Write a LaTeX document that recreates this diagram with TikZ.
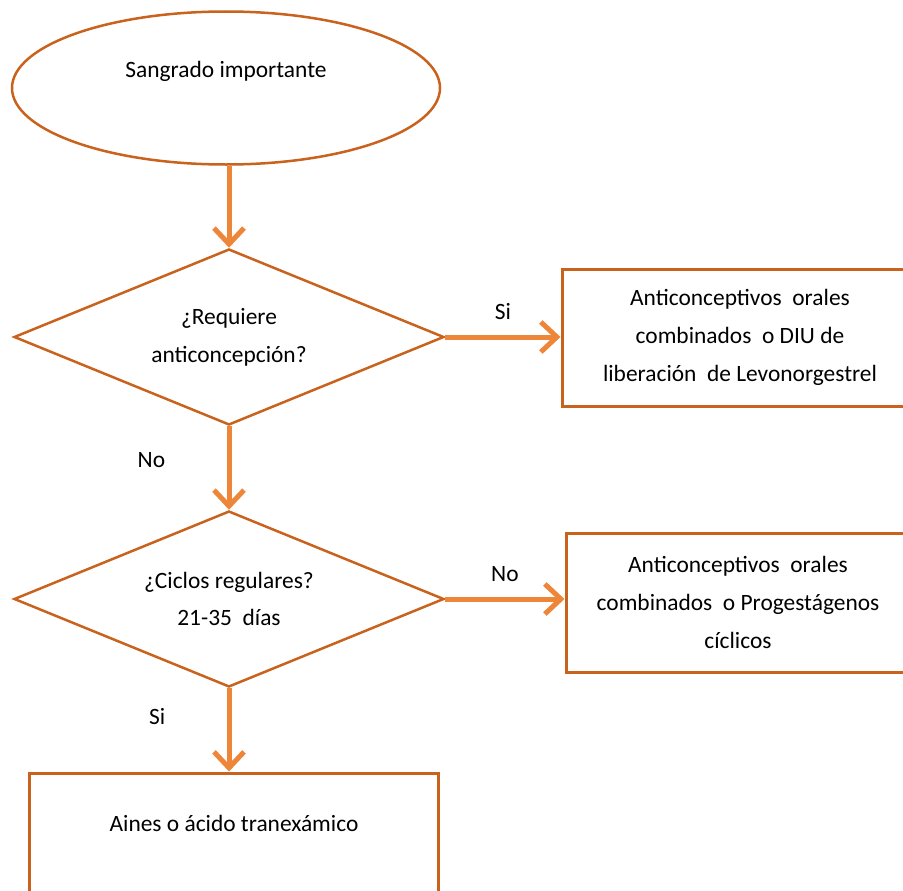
\documentclass[tikz,border=0pt]{standalone}
\usepackage{fontspec}
\setmainfont{Carlito}
\usepackage{tikz}
\usetikzlibrary{shapes.geometric,arrows.meta,positioning}
\definecolor{boxorange}{RGB}{200,98,28}
\definecolor{arroworange}{RGB}{238,134,58}

\begin{document}
\begin{tikzpicture}[x=1bp,y=-1bp,
  every node/.style={font=\fontsize{23.5}{38}\selectfont},
  startshape/.style={ellipse,draw=boxorange,line width=2.5bp,minimum width=428bp,minimum height=153bp,inner sep=0pt,align=center},
  decision/.style={diamond,draw=boxorange,line width=2.5bp,shape aspect=2.44,minimum width=430bp,minimum height=176bp,inner sep=0pt,align=center},
  outcome/.style={rectangle,draw=boxorange,line width=3bp,inner sep=0pt,align=center},
  flow/.style={draw=arroworange,line width=5bp,-{Straight Barb[length=16bp,width=30bp]}},
  answer/.style={font=\fontsize{23.5}{26}\selectfont}]
\useasboundingbox (0,0) rectangle (903,891);
\clip (0,0) rectangle (903,891);
\node[startshape] (start) at (226,88) {Sangrado importante\\ \mbox{}};
\node[decision] (need) at (229,337) {¿Requiere\\anticoncepción?};
\node[decision] (cycle) at (229,599) {¿Ciclos regulares?\\21-35 \ días};
\node[outcome,minimum width=356bp,minimum height=137bp] (combo) at (740,337.5) {Anticonceptivos \ orales\\combinados \ o DIU de\\liberación \ de Levonorgestrel};
\node[outcome,minimum width=344bp,minimum height=139bp] (prog) at (738,602.5) {Anticonceptivos \ orales\\combinados \ o Progestágenos\\cíclicos};
\node[outcome,minimum width=408bp,minimum height=138bp] (nsaid) at (234,842) {Aines o ácido tranexámico\\ \mbox{}};
\draw[flow] (start.south -| need.north) -- (need.north);
\draw[flow] (need.east) -- node[answer,above=12bp] {Si} (need.east -| combo.west);
\draw[flow] (need.south) -- node[answer,left=58bp,pos=0.4] {No} (cycle.north);
\draw[flow] (cycle.east) -- node[answer,above=12bp] {No} (cycle.east -| prog.west);
\draw[flow] (cycle.south) -- node[answer,left=58bp,pos=0.34] {Si} (cycle.south |- nsaid.north);
\end{tikzpicture}
\end{document}
